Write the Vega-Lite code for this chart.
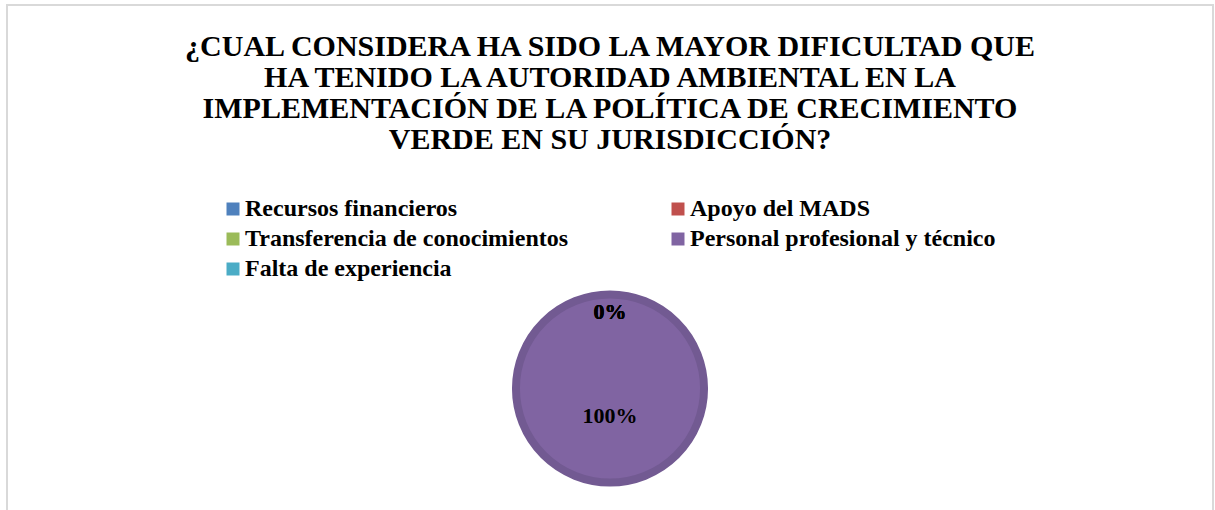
{
  "$schema": "https://vega.github.io/schema/vega-lite/v6.json",
  "autosize": {"type": "none"},
  "width": 1206,
  "height": 767,
  "padding": {"left": 7, "top": 5, "right": 2, "bottom": -262},
  "background": "white",
  "view": {"stroke": "#d9d9d9", "strokeWidth": 2, "fill": null},
  "title": {
    "text": ["¿CUAL CONSIDERA HA SIDO LA MAYOR DIFICULTAD QUE", "HA TENIDO LA AUTORIDAD AMBIENTAL EN LA", "IMPLEMENTACIÓN DE LA POLÍTICA DE CRECIMIENTO", "VERDE EN SU JURISDICCIÓN?"],
    "font": "Liberation Serif",
    "fontSize": 30,
    "fontWeight": "bold",
    "color": "#000000",
    "lineHeight": 31,
    "anchor": "middle",
    "frame": "group",
    "offset": -150
  },
  "data": {
    "values": [
      {"category": "Recursos financieros", "value": 0, "order": 1},
      {"category": "Apoyo del MADS", "value": 0, "order": 2},
      {"category": "Transferencia de conocimientos", "value": 0, "order": 3},
      {"category": "Personal profesional y técnico", "value": 1, "order": 4},
      {"category": "Falta de experiencia", "value": 0, "order": 5}
    ]
  },
  "encoding": {
    "theta": {"field": "value", "type": "quantitative", "stack": true},
    "order": {"field": "order", "type": "quantitative"}
  },
  "layer": [
    {
      "mark": {"type": "arc", "radius": 94},
      "encoding": {
        "color": {
          "field": "category",
          "type": "nominal",
          "scale": {
            "domain": ["Recursos financieros", "Apoyo del MADS", "Transferencia de conocimientos", "Personal profesional y técnico", "Falta de experiencia"],
            "range": ["#4F81BD", "#C0504D", "#9BBB59", "#8064A2", "#4BACC6"]
          },
          "legend": {
            "orient": "none",
            "legendX": 214,
            "legendY": 192,
            "direction": "horizontal",
            "columns": 2,
            "title": null
          }
        },
        "stroke": {
          "field": "category",
          "type": "nominal",
          "scale": {
            "domain": ["Recursos financieros", "Apoyo del MADS", "Transferencia de conocimientos", "Personal profesional y técnico", "Falta de experiencia"],
            "range": ["#46729f", "#a84643", "#89a54e", "#725a92", "#4298b0"]
          },
          "legend": null
        },
        "strokeWidth": {"condition": {"test": "datum.value > 0", "value": 8}, "value": 0}
      }
    },
    {
      "mark": {"type": "text", "font": "Liberation Serif", "fontSize": 22, "fontWeight": "bold", "color": "#000000"},
      "encoding": {
        "text": {"field": "value", "type": "quantitative", "format": ".0%"},
        "radius": {"field": "value", "type": "quantitative", "scale": {"type": "linear", "zero": false, "domain": [0, 1], "range": [77, 27]}}
      }
    }
  ],
  "config": {
    "view": {"stroke": "#d9d9d9", "strokeWidth": 2},
    "legend": {
      "symbolType": "square",
      "symbolSize": 169,
      "symbolStrokeWidth": 0,
      "labelFont": "Liberation Serif",
      "labelFontSize": 24,
      "labelFontWeight": "bold",
      "labelColor": "#000000",
      "labelLimit": 0,
      "labelOffset": 0,
      "columnPadding": 97,
      "rowPadding": 6
    }
  }
}
